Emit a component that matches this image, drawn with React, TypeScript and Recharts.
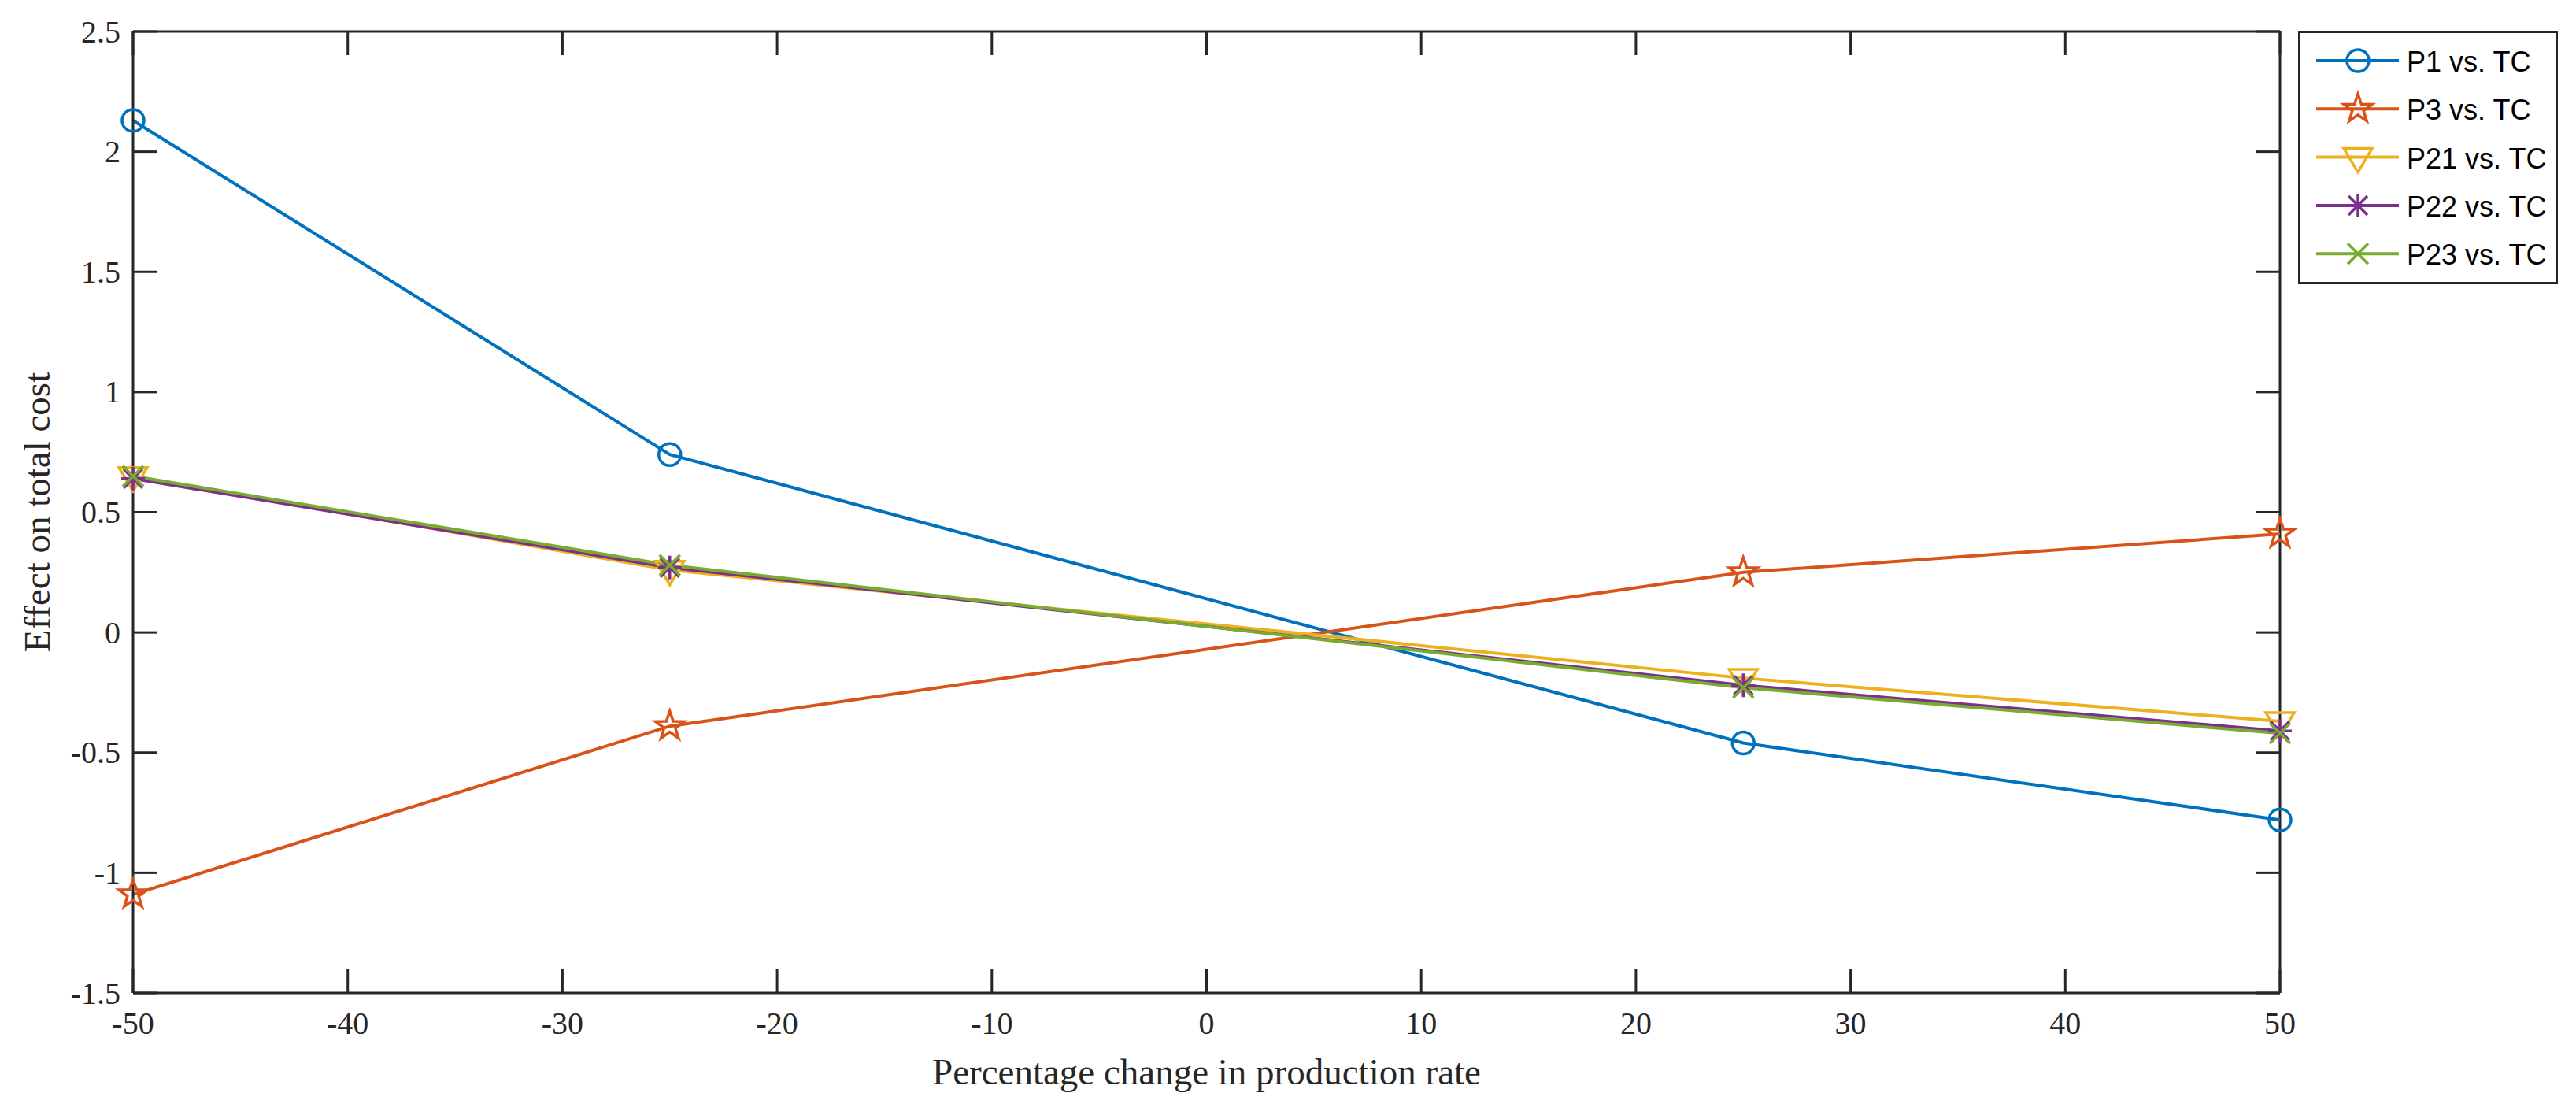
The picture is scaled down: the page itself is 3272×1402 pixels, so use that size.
import React from 'react';
import { LineChart, Line, XAxis, YAxis, Legend, ReferenceLine } from 'recharts';

// percentage change in production rate
const pctChange = [-50, -25, 25, 50];

// effect on total cost, one array per parameter
const p1VsTc = [2.13, 0.74, -0.46, -0.78];
const p3VsTc = [-1.09, -0.39, 0.25, 0.41];
const p21VsTc = [0.65, 0.26, -0.19, -0.37];
const p22VsTc = [0.64, 0.27, -0.22, -0.41];
const p23VsTc = [0.65, 0.28, -0.23, -0.42];

const xTicks = [-50, -40, -30, -20, -10, 0, 10, 20, 30, 40, 50];
const yTicks = [-1.5, -1, -0.5, 0, 0.5, 1, 1.5, 2, 2.5];

const rows = pctChange.map((x, i) => ({
  x,
  p1: p1VsTc[i],
  p3: p3VsTc[i],
  p21: p21VsTc[i],
  p22: p22VsTc[i],
  p23: p23VsTc[i],
}));

const series = [
  { key: 'p1', name: 'P1 vs. TC', color: '#0072BD', marker: 'circle' },
  { key: 'p3', name: 'P3 vs. TC', color: '#D95319', marker: 'star' },
  { key: 'p21', name: 'P21 vs. TC', color: '#EDB120', marker: 'triangle' },
  { key: 'p22', name: 'P22 vs. TC', color: '#7E2F8E', marker: 'asterisk' },
  { key: 'p23', name: 'P23 vs. TC', color: '#77AC30', marker: 'cross' },
];

const W = 3272;
const H = 1402;
const margin = { top: 40, right: 376, bottom: 0, left: 0 };
const yAxisWidth = 169;
const xAxisHeight = 141;
const plotLeft = margin.left + yAxisWidth;
const plotRight = W - margin.right;
const plotTop = margin.top;
const plotBottom = H - margin.bottom - xAxisHeight;
const tickLen = 30;

const axisColor = '#262626';
const axisLine = { stroke: axisColor, strokeWidth: 3 };
const tickFont = { fontFamily: 'Liberation Serif', fontSize: 40, fill: axisColor };

// MATLAB style: ticks point inward on all four sides of the box
const XTick = (props: any) => {
  const { x, y, payload } = props;
  return (
    <g>
      <line x1={x} y1={plotBottom} x2={x} y2={plotBottom - tickLen} stroke={axisColor} strokeWidth={3} />
      <line x1={x} y1={plotTop} x2={x} y2={plotTop + tickLen} stroke={axisColor} strokeWidth={3} />
      <text x={x} y={y} dy="0.71em" textAnchor="middle" {...tickFont}>
        {String(payload.value)}
      </text>
    </g>
  );
};

const YTick = (props: any) => {
  const { x, y, payload } = props;
  return (
    <g>
      <line x1={plotLeft} y1={y} x2={plotLeft + tickLen} y2={y} stroke={axisColor} strokeWidth={3} />
      <line x1={plotRight} y1={y} x2={plotRight - tickLen} y2={y} stroke={axisColor} strokeWidth={3} />
      <text x={x} y={y} dy="0.34em" textAnchor="end" {...tickFont}>
        {String(payload.value)}
      </text>
    </g>
  );
};

function starPath(cx: number, cy: number, outer: number, inner: number) {
  const pts: string[] = [];
  for (let i = 0; i < 10; i++) {
    const r = i % 2 === 0 ? outer : inner;
    const a = -Math.PI / 2 + (i * Math.PI) / 5;
    pts.push(`${cx + r * Math.cos(a)},${cy + r * Math.sin(a)}`);
  }
  return `M${pts.join('L')}Z`;
}

function Marker({ kind, cx, cy, color }: { kind: string; cx: number; cy: number; color: string }) {
  const sw = 3.5;
  switch (kind) {
    case 'circle':
      return <circle cx={cx} cy={cy} r={14} fill="none" stroke={color} strokeWidth={sw} />;
    case 'star':
      return <path d={starPath(cx, cy, 19, 7.5)} fill="none" stroke={color} strokeWidth={sw} strokeLinejoin="miter" />;
    case 'triangle':
      return (
        <polygon
          points={`${cx - 18},${cy - 11} ${cx + 18},${cy - 11} ${cx},${cy + 19}`}
          fill="none"
          stroke={color}
          strokeWidth={sw}
        />
      );
    case 'asterisk':
      return (
        <g stroke={color} strokeWidth={sw}>
          <line x1={cx} y1={cy - 15} x2={cx} y2={cy + 15} />
          <line x1={cx - 15} y1={cy} x2={cx + 15} y2={cy} />
          <line x1={cx - 12} y1={cy - 12} x2={cx + 12} y2={cy + 12} />
          <line x1={cx - 12} y1={cy + 12} x2={cx + 12} y2={cy - 12} />
        </g>
      );
    default:
      return (
        <g stroke={color} strokeWidth={sw}>
          <line x1={cx - 13} y1={cy - 13} x2={cx + 13} y2={cy + 13} />
          <line x1={cx - 13} y1={cy + 13} x2={cx + 13} y2={cy - 13} />
        </g>
      );
  }
}

const LegendBox = () => (
  <svg width={330} height={322} style={{ display: 'block' }}>
    <rect x={1.5} y={1.5} width={327} height={319} fill="#fff" stroke={axisColor} strokeWidth={3} />
    {series.map((s, i) => {
      const y = 38 + i * 61.3;
      return (
        <g key={s.key}>
          <line x1={23} y1={y} x2={128} y2={y} stroke={s.color} strokeWidth={4} />
          <Marker kind={s.marker} cx={76} cy={y} color={s.color} />
          <text x={138} y={y + 14} fontFamily="Liberation Sans" fontSize={36} fill="#000">
            {s.name}
          </text>
        </g>
      );
    })}
  </svg>
);

export default function App() {
  return (
    <div>
      <style>{'body{margin:0}'}</style>
      <LineChart width={W} height={H} data={rows} margin={margin}>
        <XAxis
          dataKey="x"
          type="number"
          domain={[-50, 50]}
          ticks={xTicks}
          height={xAxisHeight}
          tickSize={0}
          tickMargin={24}
          tick={<XTick />}
          axisLine={axisLine}
          tickLine={false}
          label={{
            value: 'Percentage change in production rate',
            position: 'insideBottom',
            offset: 25,
            fill: axisColor,
            fontSize: 47,
            fontFamily: 'Liberation Serif',
          }}
        />
        <YAxis
          type="number"
          domain={[-1.5, 2.5]}
          ticks={yTicks}
          width={yAxisWidth}
          tickSize={0}
          tickMargin={16}
          tick={<YTick />}
          axisLine={axisLine}
          tickLine={false}
          label={{
            value: 'Effect on total cost',
            angle: -90,
            position: 'insideLeft',
            offset: 46,
            fill: axisColor,
            fontSize: 47,
            fontFamily: 'Liberation Serif',
            style: { textAnchor: 'middle' },
          }}
        />
        <ReferenceLine y={2.5} stroke={axisColor} strokeWidth={3} ifOverflow="visible" />
        <ReferenceLine x={50} stroke={axisColor} strokeWidth={3} ifOverflow="visible" />
        <Legend
          layout="vertical"
          align="center"
          verticalAlign="middle"
          wrapperStyle={{ left: 2919, top: 39, width: 330, height: 322 }}
          content={() => <LegendBox />}
        />
        {series.map((s) => (
          <Line
            key={s.key}
            type="linear"
            dataKey={s.key}
            name={s.name}
            stroke={s.color}
            strokeWidth={4}
            isAnimationActive={false}
            activeDot={false}
            dot={(props: any) => (
              <Marker key={`${s.key}-${props.index}`} kind={s.marker} cx={props.cx} cy={props.cy} color={s.color} />
            )}
          />
        ))}
      </LineChart>
    </div>
  );
}
